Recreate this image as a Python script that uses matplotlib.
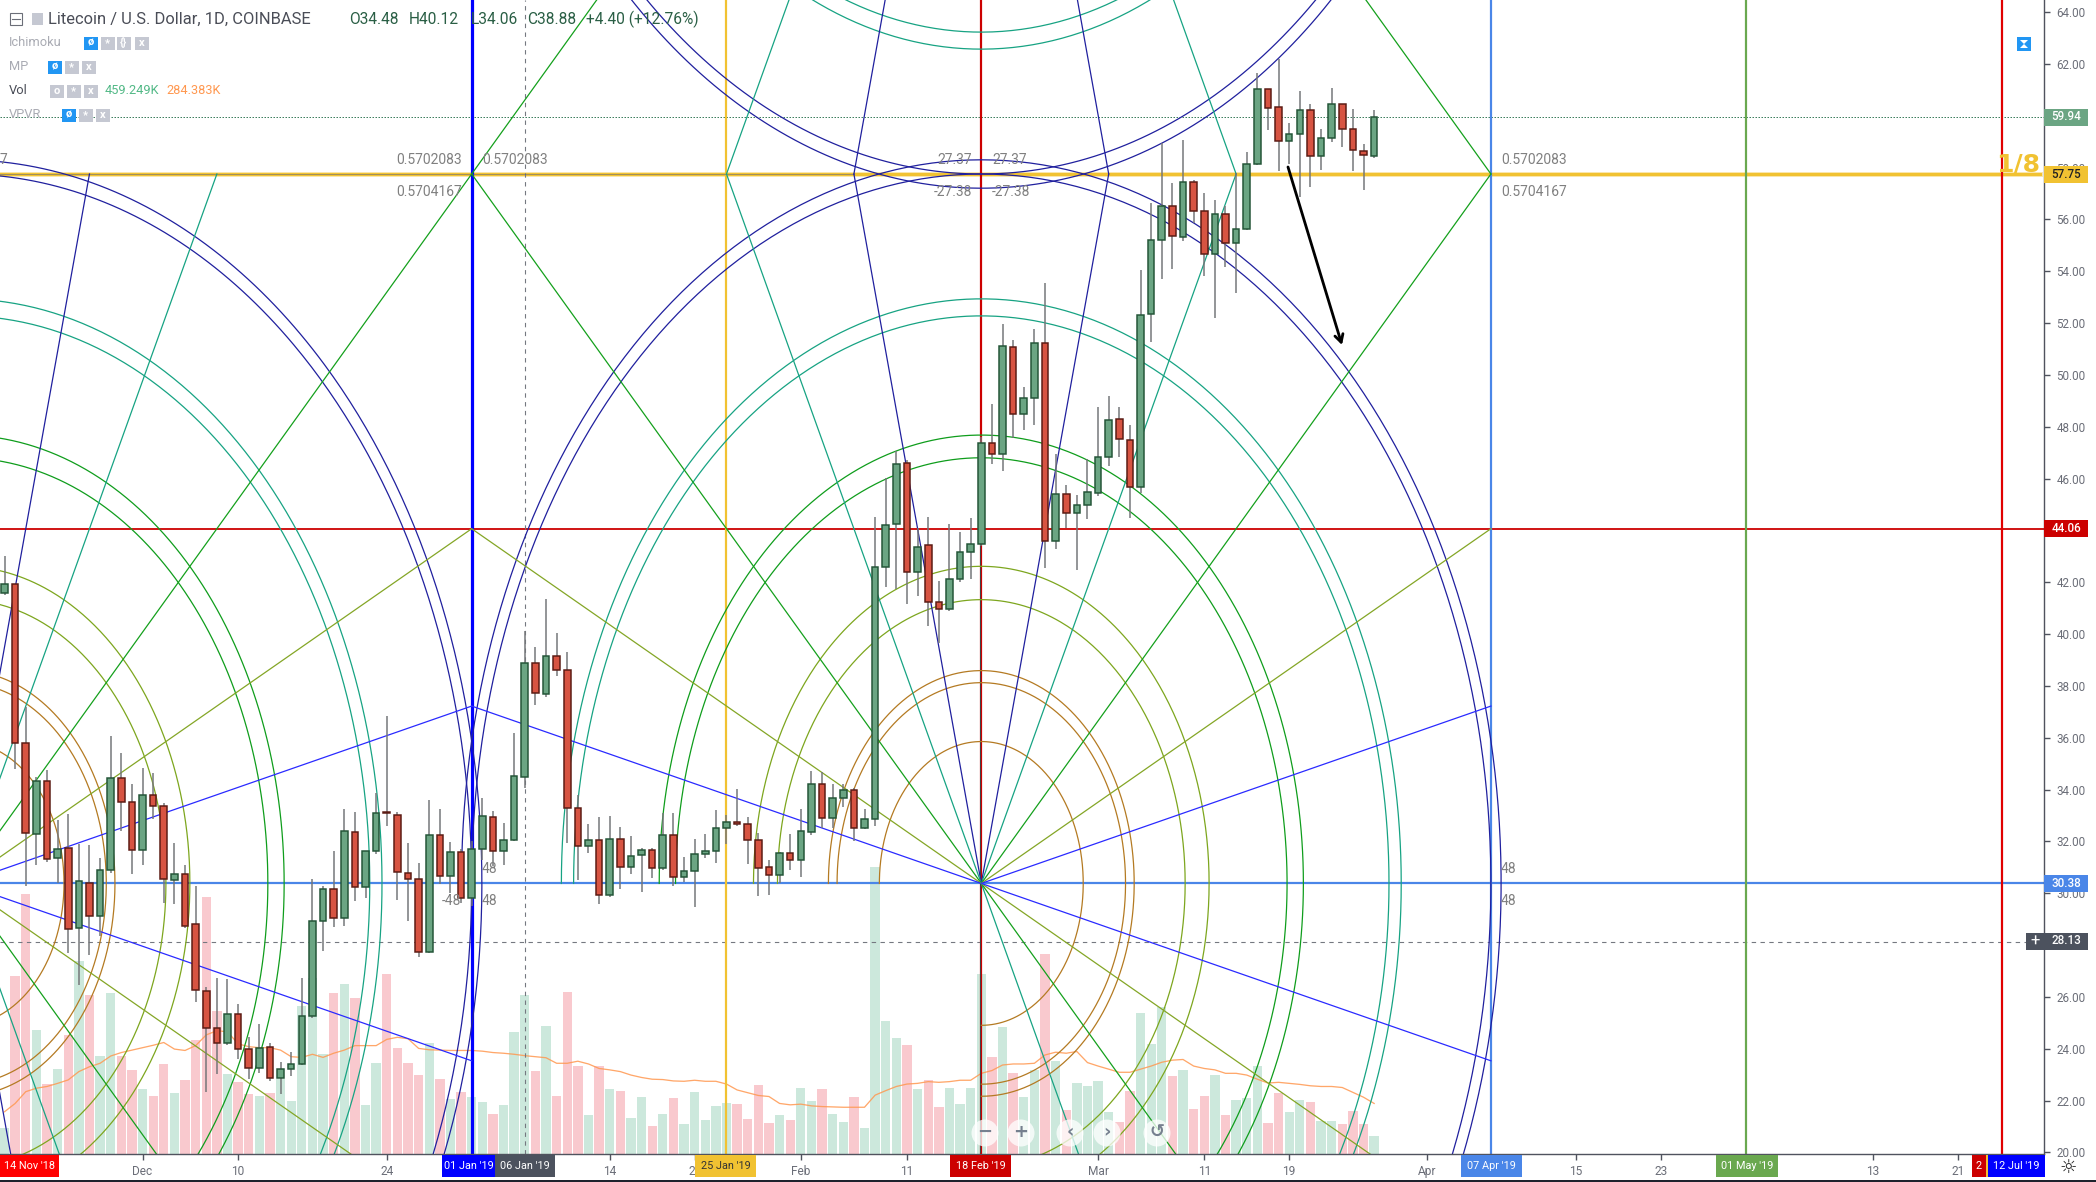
import numpy as np
import matplotlib
matplotlib.use('Agg')
import matplotlib.pyplot as plt
from matplotlib.patches import Rectangle, Ellipse, Polygon

plt.rcParams['font.family'] = ['Roboto', 'DejaVu Sans']

# daily candles, first bar is 92 days before 18 Feb '19
opens = [41.60,41.92,35.81,32.30,34.35,31.37,31.76,28.67,30.41,29.12,30.90,34.46,33.53,31.67,33.80,33.38,30.50,30.76,28.80,26.24,
         24.82,24.24,25.35,24.00,23.27,24.08,22.89,23.23,23.41,25.27,28.93,30.18,29.06,32.38,30.26,31.63,33.12,33.03,30.80,30.56,
         27.75,32.26,30.67,31.60,29.83,31.72,32.95,31.63,32.07,34.48,38.88,37.70,39.17,38.63,33.30,31.84,32.07,29.95,32.11,31.03,
         31.49,31.68,30.99,32.26,30.63,30.87,31.52,31.65,32.53,32.76,32.69,32.07,31.03,30.72,31.57,31.30,32.38,34.23,32.92,33.68,
         34.00,32.53,32.88,42.60,44.25,46.59,42.40,43.45,41.25,40.97,42.14,43.18,43.49,47.38,46.96,51.09,48.50,49.12,51.24,43.60,
         45.42,44.68,44.99,45.45,46.84,48.31,47.50,45.68,52.36,55.22,56.53,55.33,57.45,56.34,54.68,56.22,55.10,55.64,58.15,61.04,
         60.35,59.04,59.31,60.23,58.46,59.15,60.46,59.50,58.65,58.46]
highs = [43.00,41.92,37.20,34.50,34.74,32.83,33.05,31.89,31.85,31.37,36.07,35.43,34.20,34.85,34.65,33.50,31.93,31.10,30.28,26.40,
         26.74,26.68,25.72,24.44,24.94,24.24,23.50,23.89,26.72,30.54,30.28,31.63,33.24,33.12,31.64,33.88,36.84,33.14,31.95,31.16,
         33.59,33.27,31.99,31.69,32.00,33.69,33.16,32.70,36.17,40.12,39.52,41.34,40.05,39.30,33.78,32.66,32.93,33.00,32.55,32.20,
         31.76,31.76,33.11,33.11,31.41,32.08,32.28,33.20,33.01,34.04,32.96,32.32,31.27,31.60,32.28,33.27,34.71,34.66,34.20,34.20,
         34.05,33.24,44.53,46.04,47.07,46.70,44.10,44.53,42.04,44.24,43.95,44.49,47.60,48.86,51.95,51.33,49.52,51.78,53.53,46.93,
         45.74,45.35,46.74,48.75,49.17,48.78,48.05,54.03,56.62,58.93,57.42,59.05,57.52,57.00,56.73,56.50,57.78,58.61,61.63,61.04,
         62.20,59.70,60.94,60.44,59.47,61.06,60.46,60.27,58.92,60.23]
lows = [41.50,34.78,30.30,31.10,31.20,30.40,27.70,26.45,27.60,28.35,30.80,32.40,30.73,31.08,32.85,29.64,29.57,28.67,25.80,22.33,
        23.02,24.15,23.59,22.82,23.08,22.76,22.24,22.95,23.38,25.20,27.77,28.70,28.74,29.70,29.80,31.50,32.60,29.74,28.93,27.55,
        27.70,30.37,30.02,29.64,29.50,31.30,31.05,31.08,32.00,34.06,37.25,37.57,38.38,31.95,30.51,31.57,29.60,29.86,30.15,30.73,
        30.05,30.60,30.90,30.28,30.44,29.47,31.35,31.16,31.89,32.60,31.12,29.90,29.94,30.41,30.90,30.63,32.25,32.53,32.53,33.33,
        32.02,32.47,32.60,41.82,41.73,41.15,41.47,40.31,39.67,40.89,41.99,42.11,43.40,46.55,46.29,47.58,47.86,48.06,42.55,43.29,
        44.10,42.47,44.43,45.32,46.48,46.83,44.49,45.43,51.27,53.70,54.09,55.17,55.87,53.80,52.20,54.16,53.15,55.60,58.10,59.45,
        57.87,58.12,56.86,57.25,57.90,58.98,58.79,57.87,57.13,58.37]
closes = [41.92,35.81,32.33,34.35,31.34,31.72,28.63,30.49,29.12,30.90,34.46,33.53,31.67,33.80,33.37,30.55,30.76,28.74,26.27,24.82,
          24.24,25.35,23.99,23.27,24.04,22.89,23.22,23.43,25.28,28.94,30.18,29.06,32.42,30.26,31.64,33.11,33.08,30.82,30.55,27.75,
          32.26,30.67,31.60,29.83,31.72,33.00,31.63,32.07,34.54,38.88,37.74,39.17,38.63,33.30,31.84,32.07,29.95,32.11,31.03,31.45,
          31.68,30.99,32.26,30.63,30.87,31.53,31.65,32.53,32.76,32.68,32.06,30.99,30.72,31.57,31.30,32.42,34.23,32.92,33.69,34.00,
          32.53,32.88,42.60,44.22,46.55,42.40,43.37,41.24,40.97,42.14,43.18,43.49,47.38,46.96,51.12,48.50,49.12,51.24,43.60,45.42,
          44.68,44.99,45.49,46.84,48.27,47.54,45.68,52.32,55.22,56.53,55.37,57.45,56.34,54.68,56.22,55.10,55.64,58.15,61.04,60.31,
          59.04,59.31,60.23,58.46,59.15,60.46,59.50,58.69,58.50,59.94]

# volume and its moving average, thousands
volumes = [74,514,751,358,202,246,344,556,459,283,465,283,243,188,168,260,176,214,329,742,413,231,208,173,168,176,217,153,428,508,
           289,465,491,451,142,263,520,306,263,228,321,217,159,179,165,150,116,142,352,459,240,370,168,468,254,113,254,188,182,104,
           165,81,116,162,87,179,98,139,147,144,101,199,90,113,98,191,153,188,116,92,165,75,829,384,335,315,188,214,136,191,
           144,191,520,280,367,234,165,243,578,269,127,205,196,211,121,92,182,407,318,425,225,243,130,168,228,113,156,162,254,90,
           176,121,156,150,95,95,87,124,87,52]
vol_ma = [122,146,180,190,195,204,214,238,252,262,283,293,300,307,314,322,303,299,313,344,356,353,318,310,307,307,300,281,279,288,
          279,291,300,313,313,313,331,337,333,305,301,300,299,299,299,297,293,291,288,284,281,278,262,262,268,260,247,243,238,228,
          221,216,215,211,210,213,210,210,202,185,177,169,166,146,142,144,139,137,136,135,135,135,170,183,195,202,204,209,207,209,
          213,213,233,241,257,260,260,262,286,294,291,296,264,254,245,236,236,245,254,265,271,273,254,247,243,233,233,228,216,205,
          207,204,201,197,195,195,192,178,164,146]

first_bar = -92
x_tick_days = [-79,-70,-56,-35,-27,-17,-7,11,21,29,42,56,64,84,92]
x_tick_labels = ['Dec','10','24','14','22','Feb','11','Mar','11','19','Apr','15','23','13','21']
y_ticks = list(range(20, 66, 2))
y_hidden = [28, 44, 60]  # sit behind the price flags

level_top = 57.75
level_mid = 44.06
level_base = 30.38
level_last = 59.94
level_cross = 28.13
box_days = 48
box_price = 27.37
cross_day = -43

arc_ratios = [0.2,0.283,0.3,0.4,0.447,0.6,0.632,0.8,0.824,1.0,1.02]
arc_colors = ['#b47a22']*3 + ['#7da61e']*2 + ['#0f9d1c']*2 + ['#17a383']*2 + ['#20209e']*2

# fan: fraction of box width, fraction of box height
fan_dirs = [(0.25,1),(0.5,1),(1,1),(1,0.5),(1,0.25)]
fan_colors = ['#20209e','#17a383','#14a01c','#84a626','#2a2aff']

vlines = [(-48,'#0000ff',3.2),(-24,'#f1c232',2.2),(0,'#cc0000',2.2),(48,'#4a86e8',2.2),(72,'#6aa84f',2.2),(96.1,'#e00000',2.2)]

W, H = 2096, 1182
PX = 0.72
plot_r, plot_b = 2044, 1154
fig = plt.figure(figsize=(W/100, H/100), dpi=100, facecolor='white')
rect = [0, (H-plot_b)/H, plot_r/W, plot_b/H]

days = np.arange(first_bar, first_bar+len(closes))
opens, highs, lows, closes = map(np.array, (opens, highs, lows, closes))
up = closes >= opens

per_day = 10.617
x0 = -981.3/per_day
x1 = (plot_r-981.3)/per_day

# volume below everything else
vax = fig.add_axes(rect)
vax.set_xlim(x0, x1)
vax.set_ylim(0, plot_b*2.888)
vax.axis('off')
vax.bar(days, volumes, width=0.88, color=np.where(up, '#cce8dc', '#f9c9ce'), linewidth=0)
vax.plot(days[:len(vol_ma)], vol_ma, color='#ff9850', lw=1.3*PX, alpha=0.85)

ax = fig.add_axes(rect, facecolor='none')
ax.set_xlim(x0, x1)
ax.set_ylim(64-(plot_b-12)/25.92, 64+12/25.92)
for s in ['left','top']:
    ax.spines[s].set_visible(False)
for s in ['right','bottom']:
    ax.spines[s].set_color('#50535e')
    ax.spines[s].set_linewidth(1.4*PX)
ax.yaxis.tick_right()
ax.set_yticks(y_ticks)
ax.set_yticklabels(['' if v in y_hidden else '%.2f' % v for v in y_ticks])
ax.set_xticks(x_tick_days)
ax.set_xticklabels(x_tick_labels)
ax.tick_params(axis='y', length=4, width=1, color='#50535e', labelcolor='#6b6e78', labelsize=8.4, pad=5)
ax.tick_params(axis='x', length=4, width=1, color='#50535e', labelcolor='#6b6e78', labelsize=8.6, pad=4)

# price levels
ax.axhline(level_top, color='#f1c232', lw=5*PX, alpha=0.4, xmax=2040/plot_r, zorder=2)
ax.axhline(level_top, color='#f1c232', lw=3*PX, xmax=2040/plot_r, zorder=2)
ax.plot([-96,-12], [level_top,level_top], color='#4a5a8a', lw=0.8*PX, alpha=0.6, zorder=2.1)
ax.axhline(level_mid, color='#cc0000', lw=1.8*PX, zorder=2)
ax.axhline(level_base, color='#4a86e8', lw=2.2*PX, zorder=2)
ax.axhline(level_last, color='#3f7f5f', lw=1*PX, ls=(0,(1.5,1.5)), zorder=2)
ax.axhline(level_cross, color='#757880', lw=1.1*PX, ls=(0,(4,4)), zorder=2)
ax.axvline(cross_day, color='#757880', lw=1.1*PX, ls=(0,(4,4)), zorder=2)
for d, c, w in vlines:
    ax.axvline(d, color=c, lw=w*PX, zorder=2)
ax.plot([-0.12,-0.12], [20,level_mid], color='#444444', lw=1*PX, zorder=2.1)

# gann arcs
def arc(cx, cy, t0, t1):
    t = np.radians(np.linspace(t0, t1, 400))
    for r, c in zip(arc_ratios, arc_colors):
        ax.plot(cx+r*box_days*np.cos(t), cy+r*box_price*np.sin(t), color=c, lw=1.25*PX, zorder=2.5)

def fan(cx, cy, sx, sy, skip=0):
    for (fx, fy), c in list(zip(fan_dirs, fan_colors))[skip:]:
        ax.plot([cx, cx+sx*fx*box_days], [cy, cy+sy*fy*box_price], color=c, lw=1.25*PX, zorder=2.5)

arc(0, level_base, -90, 180)
arc(-2*box_days, level_base, -90, 90)
arc(0, level_base+2*box_price, 180, 360)
fan(0, level_base, 1, 1)
fan(0, level_base, -1, 1)
fan(0, level_base, 1, -1, skip=1)  # no steep blue line under this centre
for sy in [1,-1]:
    fan(-2*box_days, level_base, 1, sy)
for sx in [1,-1]:
    fan(0, level_base+2*box_price, sx, -1)

# candles
ax.vlines(days, lows, highs, color='#737578', lw=1.5*PX, zorder=3)
ax.bar(days, np.abs(closes-opens), bottom=np.minimum(opens, closes), width=0.62,
       color=np.where(up, '#6ba583', '#d75442'), edgecolor=np.where(up, '#225437', '#5b1a13'),
       linewidth=1.5*PX, zorder=3.1)

# arrow
ax.annotate('', xy=((1342-981.3)/per_day, 64-(345-12)/25.92), xytext=((1288-981.3)/per_day, 64-(167-12)/25.92),
            arrowprops=dict(arrowstyle='->,head_length=0.55,head_width=0.3', color='black', lw=2.8*PX, shrinkA=0, shrinkB=0), zorder=4)

# everything else is placed in picture pixels
top = fig.add_axes([0, 0, 1, 1], facecolor='none')
top.set_xlim(0, W)
top.set_ylim(H, 0)
top.axis('off')

def label(x, y, s, color='#808080', size=10, ha='left', weight='normal', **kw):
    top.text(x, y, s, color=color, fontsize=size, ha=ha, va='center', fontweight=weight, **kw)

for x, y, s, ha in [(396,160,'0.5702083','left'),(482,160,'0.5702083','left'),(396,192,'0.5704167','left'),
                    (1501,160,'0.5702083','left'),(1501,192,'0.5704167','left'),
                    (972,160,'27.37','right'),(992,160,'27.37','left'),(972,192,'-27.38','right'),(992,192,'-27.38','left'),
                    (0,160,'7','left'),(482,869,'48','left'),(442,901,'-48','left'),(482,901,'48','left'),
                    (1501,869,'48','left'),(1501,901,'48','left')]:
    label(x, y, s, ha=ha)
label(2018, 164, '1/8', color='#f1c232', size=18, ha='center', weight='bold', family='DejaVu Sans')

# legend rows
label(48, 19, 'Litecoin / U.S. Dollar, 1D, COINBASE', color='#4a4d57', size=11.9)
for x, s in [(349,'O34.48'),(409,'H40.12'),(471,'L34.06'),(527,'C38.88'),(586,'+4.40 (+12.76%)')]:
    label(x, 19, s, color='#2a5f45', size=11.2)
label(9, 43, 'Ichimoku', color='#a9abb3', size=9.3)
label(9, 67, 'MP', color='#a9abb3', size=9.3)
label(9, 91, 'Vol', color='#4a4d57', size=9.3)
label(9, 115, 'VPVR', color='#a9abb3', size=9.3)
label(105, 91, '459.249K', color='#53b987', size=9.2)
label(166.5, 91, '284.383K', color='#ff9850', size=9.2)

def icon(x, y, c='#c5c8d2', s=''):
    top.add_patch(Rectangle((x, y-6.5), 13.5, 13, color=c, lw=0, zorder=5))
    if s:
        top.text(x+6.7, y, s, color='white', fontsize=8, ha='center', va='center', fontweight='bold', zorder=6)

for x, c, s in [(84,'#2196f3','ø'),(101,'#c5c8d2','*'),(117,'#c5c8d2','{}'),(135,'#c5c8d2','x')]:
    icon(x, 43, c, s)
for x, c, s in [(48,'#2196f3','ø'),(65,'#c5c8d2','*'),(82,'#c5c8d2','x')]:
    icon(x, 67, c, s)
for x, c, s in [(50,'#c5c8d2','o'),(67,'#c5c8d2','*'),(84,'#c5c8d2','x')]:
    icon(x, 91, c, s)
for x, c, s in [(62,'#2196f3','ø'),(79,'#c5c8d2','*'),(96,'#c5c8d2','x')]:
    icon(x, 115, c, s)
top.add_patch(Rectangle((10, 13), 12, 12, fill=False, ec='#6b6e78', lw=0.8))
top.plot([12,20], [19,19], color='#6b6e78', lw=0.8)
top.add_patch(Rectangle((32, 13), 11, 12, color='#c5c8d2', lw=0))
top.add_patch(Rectangle((2017, 37), 14, 14, color='#2196f3', lw=0))
top.add_patch(Polygon([(2020,40),(2028,40),(2024,44)], color='white', lw=0, zorder=5))
top.add_patch(Polygon([(2020,48),(2028,48),(2024,44)], color='white', lw=0, zorder=5))

# price and date flags
for y, c, tc, s in [(117,'#6ba583','white','59.94'),(174,'#f1c232','#222222','57.75'),(528.5,'#cc0000','white','44.06'),
                    (883.5,'#4a86e8','white','30.38'),(941,'#4c525e','white','28.13')]:
    top.add_patch(Rectangle((2044, y-8.5), 44, 17, color=c, lw=0, zorder=5))
    top.text(2066, y, s, color=tc, fontsize=8.4, ha='center', va='center', fontweight='medium', zorder=6)
top.add_patch(Rectangle((2026, 933), 18, 17, color='#4c525e', lw=0, zorder=5))
top.text(2035, 941, '+', color='white', fontsize=12, ha='center', va='center', zorder=6)

for a, b, c, tc, s in [(0,59,'#ff0000','white',"14 Nov '18"),(442,495,'#0000ff','white',"01 Jan '19"),
                       (495,555,'#4c525e','white',"06 Jan '19"),(695,756,'#f1c232','#333333',"25 Jan '19"),
                       (950,1011,'#cc0000','white',"18 Feb '19"),(1461,1522,'#4a86e8','white',"07 Apr '19"),
                       (1716,1778,'#6aa84f','white',"01 May '19"),(1972,1986,'#cc0000','white',"2"),
                       (1987,2045,'#0000ff','white',"12 Jul '19")]:
    top.add_patch(Rectangle((a, 1155), b-a, 22, color=c, lw=0, zorder=5))
    top.text((a+b)/2, 1166, s, color=tc, fontsize=7.8, ha='center', va='center', zorder=6)
top.add_patch(Rectangle((1985.5, 1155), 2, 22, color='#f1c232', lw=0, zorder=5))

# zoom buttons over the volume
for x, s in [(985,'−'),(1021,'+'),(1070,'‹'),(1107,'›'),(1157,'↺')]:
    top.add_patch(Ellipse((x, 1133), 27, 27, color='white', alpha=0.75, lw=0, zorder=5))
    top.text(x, 1132, s, color='#76808f', fontsize=13, ha='center', va='center', zorder=6, family='DejaVu Sans', fontweight='bold')

top.text(2068, 1167, '☼', color='#222222', fontsize=14, ha='center', va='center', family='DejaVu Sans')
top.add_patch(Rectangle((0, 1180), W, 2, color='#1e222d', lw=0, zorder=5))

fig.savefig('out.png', dpi=100)
